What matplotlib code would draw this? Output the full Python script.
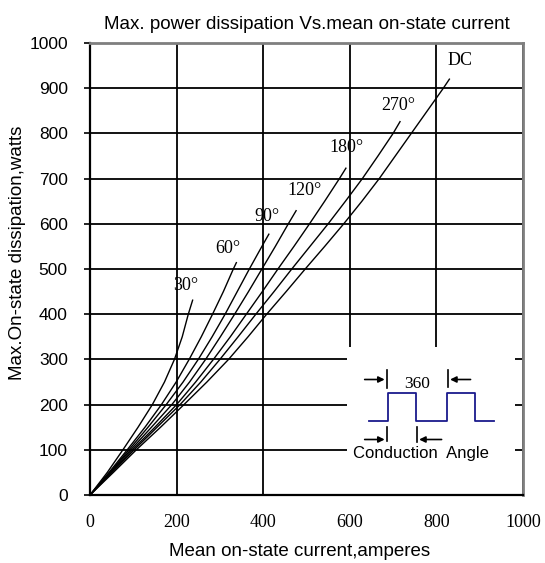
import matplotlib
matplotlib.use("Agg")
import matplotlib.pyplot as plt
from matplotlib.patches import Rectangle

# ---------------- data ----------------
angles = ["30°", "60°", "90°", "120°", "180°", "270°", "DC"]

power_30 = [0, 50, 100, 150, 200, 250, 300, 350, 400, 431]
current_30 = [0, 40, 76, 111, 144, 172, 195, 213, 227, 237]

power_60 = [0, 50, 100, 150, 200, 250, 300, 350, 400, 450, 500, 514]
current_60 = [0, 44, 86, 127, 165, 199, 229, 257, 283, 308, 331, 338]

power_90 = [0, 50, 100, 150, 200, 250, 300, 350, 400, 450, 500, 550, 577]
current_90 = [0, 46, 90, 134, 176, 215, 250, 282, 312, 340, 368, 397, 413]

power_120 = [0, 50, 100, 150, 200, 250, 300, 350, 400, 450, 500, 550, 600, 629]
current_120 = [0, 47, 94, 142, 189, 230, 267, 301, 334, 366, 397, 428, 458, 476]

power_180 = [0, 50, 100, 150, 200, 250, 300, 350, 400, 450, 500, 550, 600, 650, 700, 723]
current_180 = [0, 49, 98, 150, 200, 244, 285, 324, 361, 398, 434, 471, 507, 542, 576, 591]

power_270 = [0, 50, 100, 150, 200, 250, 300, 350, 400, 450, 500, 550, 600, 650, 700, 750, 800, 826]
current_270 = [0, 51, 102, 155, 208, 256, 300, 342, 383, 425, 466, 508, 550, 590, 629, 665, 700, 716]

power_dc = [0, 50, 100, 150, 200, 250, 300, 350, 400, 450, 500, 550, 600, 650, 700, 750, 800, 850, 900, 920]
current_dc = [0, 54, 107, 163, 217, 270, 320, 365, 408, 453, 497, 542, 586, 628, 668, 705, 742, 779, 816, 830]

x_ticks = [0, 200, 400, 600, 800, 1000]
y_ticks = [0, 100, 200, 300, 400, 500, 600, 700, 800, 900, 1000]

# inset waveform (current axis units, power axis units)
wave_x = [644, 688, 688, 754, 754, 824, 824, 890, 890, 934]
wave_y = [164, 164, 226, 226, 164, 164, 226, 226, 164, 164]

series = [
    (current_30, power_30),
    (current_60, power_60),
    (current_90, power_90),
    (current_120, power_120),
    (current_180, power_180),
    (current_270, power_270),
    (current_dc, power_dc),
]
# label offsets from curve end, in points
label_offsets = [(-5, 10.5), (-5.8, 10.5), (-1.5, 13), (5.8, 14.4), (0.5, 14.6), (-1.5, 11.5), (8, 13.7)]

# ---------------- figure ----------------
fig = plt.figure(figsize=(5.45, 5.63), dpi=100)
ax = fig.add_axes([90 / 545, 1 - 495 / 563, (523 - 90) / 545, (495 - 43) / 563])

ax.set_xlim(0, 1000)
ax.set_ylim(0, 1000)
ax.set_xticks(x_ticks)
ax.set_yticks(y_ticks)
ax.grid(True, color="black", linewidth=1.3, zorder=0)
ax.set_axisbelow(True)

for (cx, py), lab, off in zip(series, angles, label_offsets):
    ax.plot(cx, py, color="black", linewidth=1.0, zorder=3, solid_joinstyle="round")
    ax.annotate(lab, xy=(cx[-1], py[-1]), xytext=off, textcoords="offset points",
                ha="center", va="center", fontsize=13, family="Liberation Serif",
                color="black", zorder=4)

# white panel for the inset
ax.add_patch(Rectangle((593, 2), 389, 325, facecolor="white", edgecolor="none", zorder=1.5))

# waveform
ax.plot(wave_x, wave_y, color="#1a1a8c", linewidth=1.3, zorder=3)

def to_data(px, py):
    return ((px - 90) / 0.4335, (495 - py) / 0.452)

def arrow(x0, y0, x1, y1):
    a = to_data(x0, y0)
    b = to_data(x1, y1)
    ax.annotate("", xy=b, xytext=a,
                arrowprops=dict(arrowstyle="-|>", color="black", lw=1.2,
                                mutation_scale=9, shrinkA=0, shrinkB=0), zorder=4)

def vbar(x, y0, y1):
    a = to_data(x, y0)
    b = to_data(x, y1)
    ax.plot([a[0], b[0]], [a[1], b[1]], color="black", linewidth=1.2, zorder=4)

# top markers
arrow(365, 379.5, 385, 379.5)
vbar(387.5, 370, 388)
vbar(448.5, 370, 387)
arrow(471, 379.5, 450.5, 379.5)
ax.text(*to_data(417.5, 384), "360", ha="center", va="center", fontsize=12.5,
        family="Liberation Serif", zorder=4)
# bottom markers
arrow(365, 439.5, 385, 439.5)
vbar(387.5, 427, 441)
vbar(417.5, 427, 442)
arrow(442, 439.5, 419.5, 439.5)
ax.text(*to_data(421, 453.5), "Conduction  Angle", ha="center", va="center",
        fontsize=12, family="Liberation Sans", zorder=4)

# spines
for s in ["left", "bottom"]:
    ax.spines[s].set_color("black")
    ax.spines[s].set_linewidth(1.6)
for s in ["top", "right"]:
    ax.spines[s].set_color("#7f7f7f")
    ax.spines[s].set_linewidth(2.0)
for sp in ax.spines.values():
    sp.set_zorder(5)

ax.tick_params(axis="y", direction="out", length=4, width=1.2, pad=12, labelsize=12.5)
ax.tick_params(axis="x", length=0, pad=14, labelsize=13)
for t in ax.get_yticklabels():
    t.set_family("Liberation Sans")
for t in ax.get_xticklabels():
    t.set_family("Liberation Serif")

ax.set_title("Max. power dissipation Vs.mean on-state current", fontsize=13.5,
             family="Liberation Sans", pad=10)
ax.set_xlabel("Mean on-state current,amperes", fontsize=13.5, family="Liberation Sans")
ax.xaxis.set_label_coords(0.485, -0.106)
ax.set_ylabel("Max.On-state dissipation,watts", fontsize=13.5, family="Liberation Sans")
ax.yaxis.set_label_coords(-0.148, 0.535)

fig.savefig("out.png", dpi=100)
